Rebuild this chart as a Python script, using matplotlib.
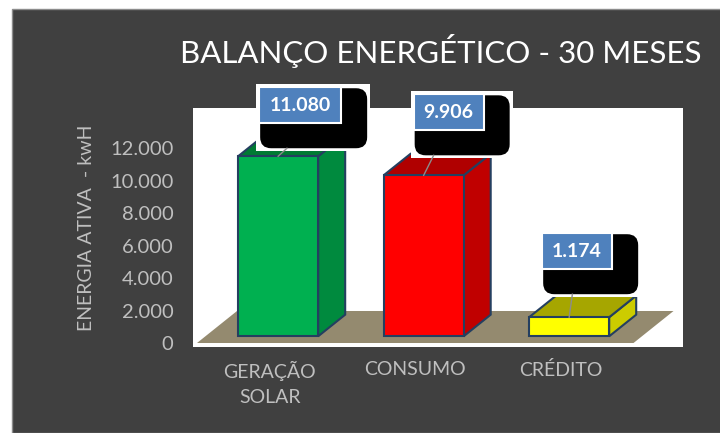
import matplotlib
matplotlib.use("Agg")
import matplotlib.pyplot as plt
import matplotlib.patches as patches
import matplotlib.transforms as mtransforms

categories = ["GERAÇÃO\nSOLAR", "CONSUMO", "CRÉDITO"]
values = [11080, 9906, 1174]
y_ticks = [0, 2000, 4000, 6000, 8000, 10000, 12000]

front_colors = ["#00B050", "#FF0000", "#FFFF00"]
side_colors = ["#008A3E", "#C00000", "#CCCC00"]
top_colors = ["#007A33", "#B00000", "#A6A600"]

# label box offsets from the bar's top-front centre, in pixels (x right, y up)
label_dx = [22, 25, 8]
label_dy = [51, 63, 66]

plt.rcParams['font.family'] = ['Lato', 'DejaVu Sans']

fig = plt.figure(figsize=(7.2, 4.33), dpi=100, facecolor="white")
bg = patches.Rectangle((12 / 720, 0), 1, 1 - 9 / 433, transform=fig.transFigure,
                       facecolor="#404040", edgecolor="#8C8C8C", linewidth=1, zorder=-10)
fig.patches.append(bg)

ax = fig.add_axes([193 / 720, 86 / 433, 490 / 720, 239 / 433])
ax.set_facecolor("white")
ax.set_xlim(-0.0275, 3.34)
ax.set_ylim(-246, 14462)
for s in ax.spines.values():
    s.set_visible(False)

# oblique depth vector (x units, value units)
DX, DY = 0.275, 1970
front, back = 0.21, 0.885
width = 0.55

floor = patches.Polygon([(0, 0), (3, 0), (3 + DX, DY), (DX, DY)], closed=True,
                        facecolor="#948A6F", edgecolor="none", zorder=1)
ax.add_patch(floor)

edge = "#243F60"
anchors = []
for i, v in enumerate(values):
    xc = i + 0.5 + front * DX
    x0, x1 = xc - width / 2, xc + width / 2
    yb = front * DY
    yt = v + front * DY
    ddx, ddy = (back - front) * DX, (back - front) * DY
    side = patches.Polygon([(x1, yb), (x1 + ddx, yb + ddy), (x1 + ddx, yt + ddy), (x1, yt)],
                           facecolor=side_colors[i], edgecolor=edge, linewidth=1.5, zorder=2)
    top = patches.Polygon([(x0, yt), (x1, yt), (x1 + ddx, yt + ddy), (x0 + ddx, yt + ddy)],
                          facecolor=top_colors[i], edgecolor=edge, linewidth=1.5, zorder=2)
    face = patches.Rectangle((x0, yb), width, v, facecolor=front_colors[i],
                             edgecolor=edge, linewidth=1.5, zorder=3)
    ax.add_patch(side)
    ax.add_patch(top)
    ax.add_patch(face)
    anchors.append((xc, yt))

ax.set_yticks(y_ticks)
ax.set_yticklabels([f"{t:,}".replace(",", ".") for t in y_ticks])
ax.set_xticks([0.5, 1.5, 2.5])
ax.set_xticklabels(categories, linespacing=1.55)
ax.tick_params(axis="y", length=0, pad=14, labelsize=14.5, labelcolor="#BFBFBF")
ax.tick_params(axis="x", length=0, pad=10, labelsize=14, labelcolor="#BFBFBF")
ax.set_ylabel("ENERGIA ATIVA  - kwH", fontsize=14, color="#BFBFBF")
ax.yaxis.set_label_coords(-0.2, 0.5)

# data labels: white backing, black rounded shadow, blue box (drawn in pixels)
pix = mtransforms.IdentityTransform()
box_h = 36
for i, v in enumerate(values):
    px, py = ax.transData.transform(anchors[i])
    txt = f"{v:,}".replace(",", ".")
    bw = 82 if len(txt) > 5 else 70
    bx = px + label_dx[i] - bw / 2
    by = py + label_dy[i] - box_h / 2
    # white backing
    fig.patches.append(patches.Rectangle((bx - 3, by - 28), bw + 32, box_h + 31, transform=pix,
                                         facecolor="white", edgecolor="none", zorder=5))
    # black rounded shadow
    fig.patches.append(patches.FancyBboxPatch((bx + 12, by - 14), bw + 3, box_h + 2,
                                              boxstyle="round,pad=11", transform=pix,
                                              facecolor="black", edgecolor="none", zorder=6))
    # leader line from bar top to shadow
    fig.lines.append(plt.Line2D([px, px + label_dx[i] * 0.4], [py, by - 25], transform=pix,
                                color="#8C8C8C", linewidth=1, zorder=7))
    fig.patches.append(patches.Rectangle((bx, by), bw, box_h, transform=pix,
                                         facecolor="#4F81BD", edgecolor="white", linewidth=1.5,
                                         zorder=8))
    fig.text(bx + bw / 2, by + box_h / 2, txt, transform=pix, ha="center", va="center",
             fontsize=14, fontweight="bold", color="white", zorder=9)

fig.text(441 / 720, 1 - 63 / 433, "BALANÇO ENERGÉTICO - 30 MESES", ha="center", va="baseline",
         fontsize=22.5, color="white")

fig.savefig("out.png", dpi=100, facecolor=fig.get_facecolor())
